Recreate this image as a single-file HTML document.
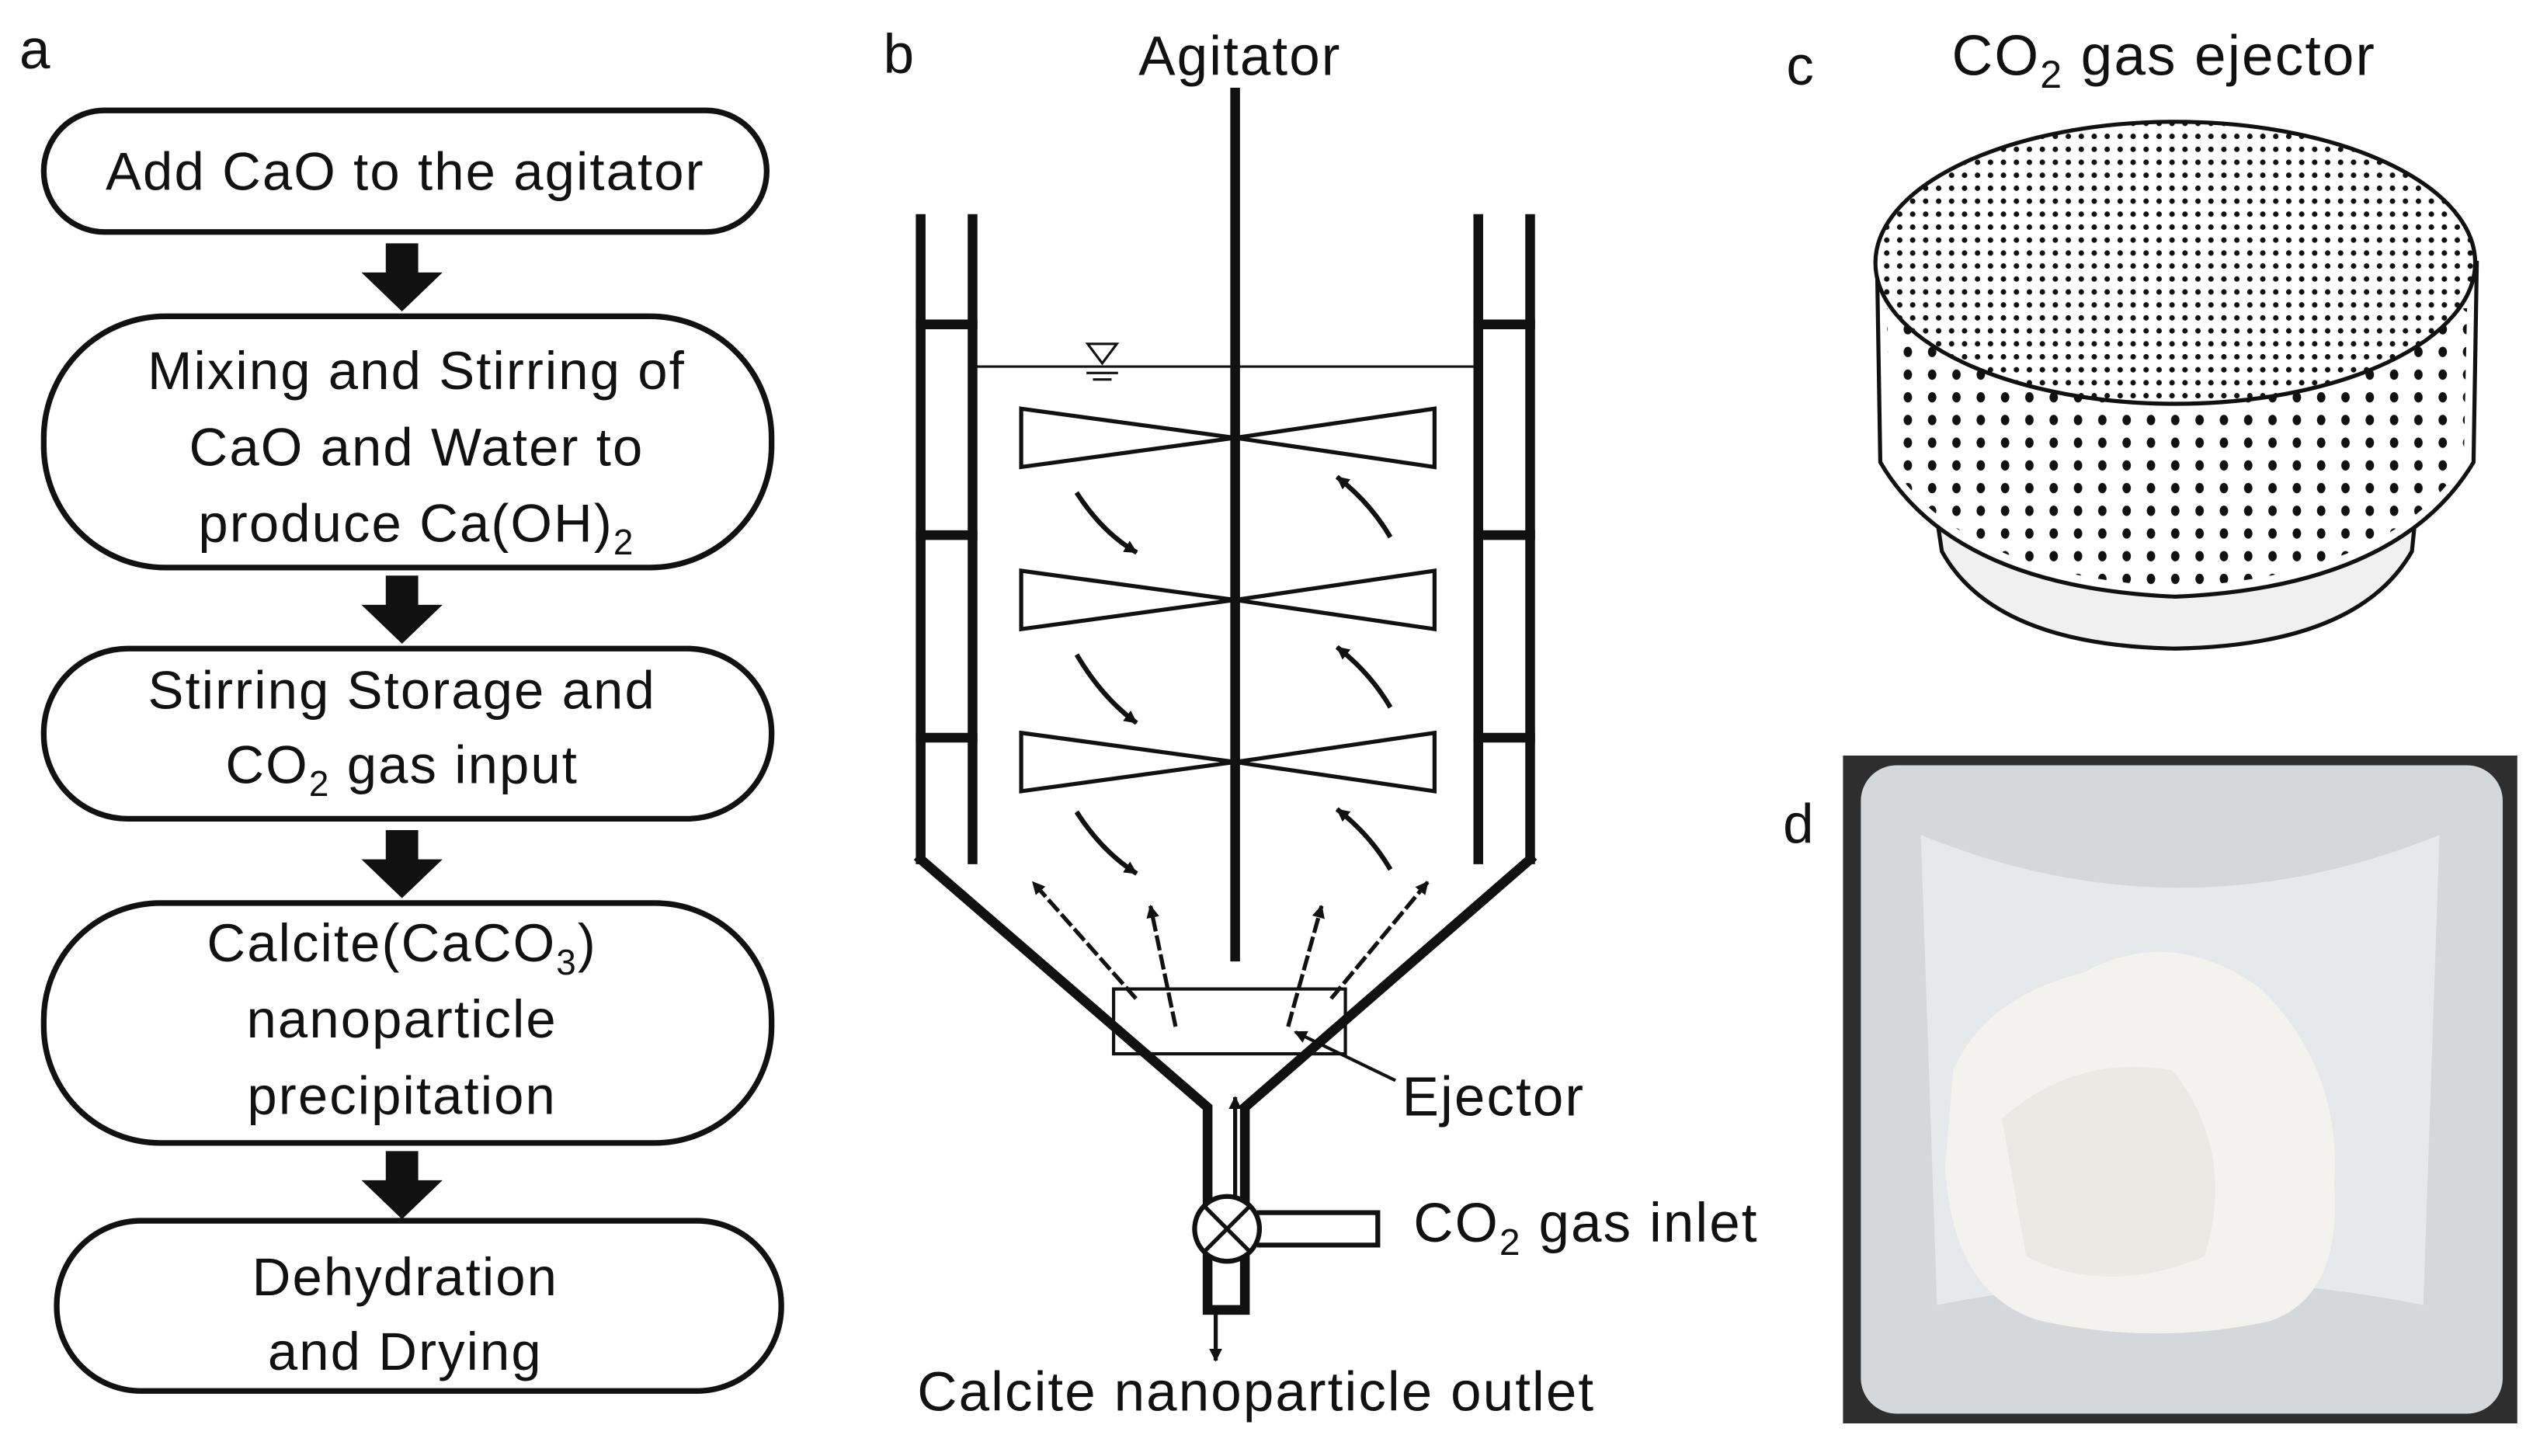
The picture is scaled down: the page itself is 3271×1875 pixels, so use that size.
<!DOCTYPE html>
<html><head><meta charset="utf-8"><style>
html,body{margin:0;padding:0;background:#fff;}
svg{display:block}
text{font-family:"Liberation Sans",sans-serif;fill:#111;letter-spacing:1px}
</style></head><body>
<svg width="3271" height="1875" viewBox="0 0 1567 898" xmlns="http://www.w3.org/2000/svg">
<defs>
<pattern id="topdots" width="8" height="8" patternUnits="userSpaceOnUse"><circle cx="4" cy="4" r="1.7" fill="#111"/></pattern>
<pattern id="sidedots" width="15" height="14" patternUnits="userSpaceOnUse"><ellipse cx="7" cy="7" rx="2.6" ry="3.2" fill="#111"/></pattern>
<clipPath id="topclip"><ellipse cx="1342" cy="162" rx="184" ry="86"/></clipPath>
<clipPath id="sideclip"><path d="M1164 190 L1166 285 Q1210 355 1342 362 Q1475 355 1520 285 L1522 190Z"/></clipPath>
<marker id="ah" markerWidth="8" markerHeight="8" refX="6" refY="4" orient="auto" markerUnits="userSpaceOnUse"><path d="M0 0 L8 4 L0 8Z" fill="#111"/></marker>
</defs>

<!-- Panel a -->
<text x="12" y="42" font-size="34">a</text>
<g fill="none" stroke="#111" stroke-width="3.5">
<rect x="27" y="68" width="446" height="75" rx="37.5"/>
<rect x="27" y="195" width="449" height="155" rx="75"/>
<rect x="27" y="400" width="449" height="105" rx="52"/>
<rect x="27" y="557" width="449" height="148" rx="72"/>
<rect x="35" y="753" width="447" height="105" rx="52"/>
</g>
<g fill="#111">
<path d="M238 150 H258 V168 H273 L248 192 L223 168 H238Z"/>
<path d="M238 355 H258 V373 H273 L248 397 L223 373 H238Z"/>
<path d="M238 512 H258 V530 H273 L248 554 L223 530 H238Z"/>
<path d="M238 710 H258 V728 H273 L248 752 L223 728 H238Z"/>
</g>
<g font-size="33" text-anchor="middle">
<text x="250" y="117">Add CaO to the agitator</text>
<text x="257" y="240">Mixing and Stirring of</text>
<text x="257" y="287">CaO and Water to</text>
<text x="257" y="334">produce Ca(OH)<tspan font-size="22" dy="8">2</tspan></text>
<text x="248" y="437">Stirring Storage and</text>
<text x="248" y="483">CO<tspan font-size="22" dy="8">2</tspan><tspan dy="-8"> gas input</tspan></text>
<text x="248" y="593">Calcite(CaCO<tspan font-size="22" dy="8">3</tspan><tspan dy="-8">)</tspan></text>
<text x="248" y="640">nanoparticle</text>
<text x="248" y="687">precipitation</text>
<text x="250" y="799">Dehydration</text>
<text x="250" y="845">and Drying</text>
</g>

<!-- Panel b -->
<text x="545" y="45" font-size="34">b</text>
<text x="765" y="46" font-size="34" text-anchor="middle">Agitator</text>
<g stroke="#111" fill="none" stroke-linecap="square">
<line x1="762" y1="57" x2="762" y2="590" stroke-width="6"/>
<g stroke-width="6">
<line x1="568" y1="135" x2="568" y2="530"/><line x1="600" y1="135" x2="600" y2="530"/>
<line x1="912" y1="135" x2="912" y2="530"/><line x1="944" y1="135" x2="944" y2="530"/>
<line x1="568" y1="200" x2="600" y2="200"/><line x1="568" y1="330" x2="600" y2="330"/><line x1="568" y1="455" x2="600" y2="455"/>
<line x1="912" y1="200" x2="944" y2="200"/><line x1="912" y1="330" x2="944" y2="330"/><line x1="912" y1="455" x2="944" y2="455"/>
<polyline points="568,530 745,683 745,808 768,808 768,683 944,530" stroke-linejoin="miter"/>
</g>
<line x1="600" y1="226" x2="912" y2="226" stroke-width="1.5"/>
<path d="M671 212 H689 L680 224Z" stroke-width="1.5"/>
<line x1="671" y1="230" x2="689" y2="230" stroke-width="1.5"/><line x1="675" y1="234" x2="685" y2="234" stroke-width="1.5"/>
<g stroke-width="2.5">
<path d="M630 252 L762 270 L885 252 V288 L762 270 L630 288Z"/>
<path d="M630 352 L762 370 L885 352 V388 L762 370 L630 388Z"/>
<path d="M630 452 L762 470 L885 452 V488 L762 470 L630 488Z"/>
</g>
<g stroke-width="3">
<path d="M665 305 Q680 328 700 340" marker-end="url(#ah)"/>
<path d="M665 405 Q680 430 700 445" marker-end="url(#ah)"/>
<path d="M665 502 Q680 525 700 538" marker-end="url(#ah)"/>
<path d="M857 330 Q845 310 826 295" marker-end="url(#ah)"/>
<path d="M857 435 Q845 415 826 400" marker-end="url(#ah)"/>
<path d="M857 535 Q845 515 826 500" marker-end="url(#ah)"/>
</g>
<g stroke-width="2.5" stroke-dasharray="7,5">
<path d="M700 615 L638 545" marker-end="url(#ah)"/>
<path d="M725 632 L710 560" marker-end="url(#ah)"/>
<path d="M795 632 L815 560" marker-end="url(#ah)"/>
<path d="M822 615 L880 545" marker-end="url(#ah)"/>
</g>
<rect x="687" y="610" width="143" height="40" stroke-width="2"/>
<line x1="860" y1="666" x2="800" y2="637" stroke-width="2" marker-end="url(#ah)"/>
<line x1="762" y1="745" x2="762" y2="678" stroke-width="2.5" marker-end="url(#ah)"/>
<circle cx="757" cy="758" r="20" stroke-width="3" fill="#fff"/>
<line x1="743" y1="744" x2="771" y2="772" stroke-width="2.5"/><line x1="771" y1="744" x2="743" y2="772" stroke-width="2.5"/>
<polyline points="777,748 850,748 850,768 777,768" stroke-width="3"/>
<line x1="750" y1="808" x2="750" y2="838" stroke-width="2.5" marker-end="url(#ah)"/>
</g>
<text x="865" y="688" font-size="34">Ejector</text>
<text x="872" y="766" font-size="34">CO<tspan font-size="23" dy="8">2</tspan><tspan dy="-8"> gas inlet</tspan></text>
<text x="775" y="870" font-size="34" text-anchor="middle">Calcite nanoparticle outlet</text>

<!-- Panel c -->
<text x="1102" y="52" font-size="34">c</text>
<text x="1335" y="46" font-size="35" text-anchor="middle">CO<tspan font-size="24" dy="8">2</tspan><tspan dy="-8"> gas ejector</tspan></text>
<g stroke="#111" stroke-width="2.5">
<path d="M1195 320 L1198 340 Q1230 398 1342 400 Q1455 398 1488 340 L1490 320 Z" fill="#f0f0f0"/>
<path d="M1158 162 L1160 285 Q1205 362 1342 368 Q1480 362 1526 285 L1528 162Z" fill="#fff"/>
</g>
<rect x="1150" y="190" width="390" height="180" fill="url(#sidedots)" clip-path="url(#sideclip)"/>
<ellipse cx="1342" cy="162" rx="185" ry="87" fill="#fff" stroke="#111" stroke-width="2.5"/>
<rect x="1150" y="70" width="390" height="190" fill="url(#topdots)" clip-path="url(#topclip)"/>

<!-- Panel d -->
<text x="1100" y="520" font-size="34">d</text>
<rect x="1137" y="466" width="416" height="412" fill="#2e2e2e"/>
<rect x="1148" y="472" width="396" height="400" rx="22" fill="#d4d8db"/>
<path d="M1185 515 Q1345 580 1505 515 L1495 805 Q1345 775 1195 805Z" fill="#e6e9eb"/>
<path d="M1205 660 Q1225 615 1285 600 Q1340 570 1395 610 Q1445 660 1440 730 Q1445 800 1400 815 Q1330 830 1260 815 Q1205 800 1200 720Z" fill="#f3f2ee"/>
<path d="M1235 690 Q1280 650 1340 660 Q1380 710 1360 775 Q1300 800 1250 775Z" fill="#ebe9e3"/>
</svg>
</body></html>
